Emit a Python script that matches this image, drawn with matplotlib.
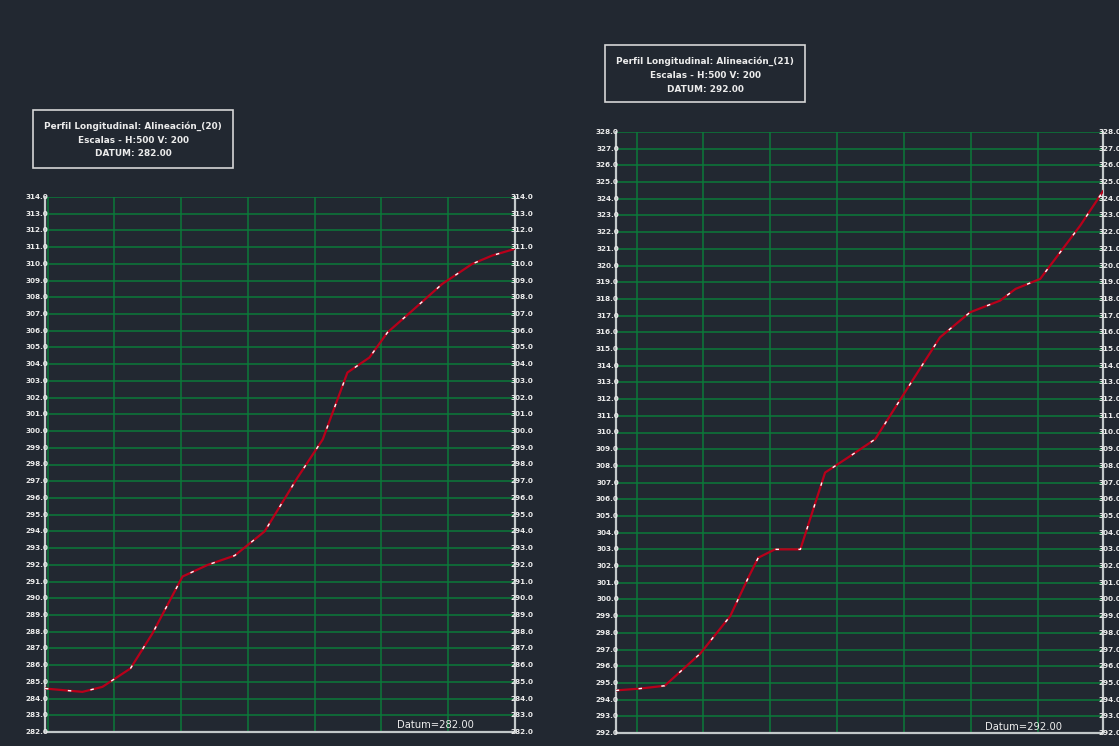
import matplotlib.pyplot as plt
from matplotlib.patches import Rectangle

BG = '#222831'
GRID = '#0b7a3a'
AXIS = '#c3c9ca'
LINE = '#b8001a'
TEXT = '#ececec'

# Alineacion 20: estaciones (m) y cotas (m)
est_20 = [-0.4, 5.2, 8.2, 12.4, 15.7, 20.2, 24.0, 28.0, 32.5, 37.4, 41.2,
          44.9, 48.2, 50.9, 54.6, 59.1, 63.6, 66.6, 70.0]
cota_20 = [284.6, 284.4, 284.7, 285.8, 287.9, 291.3, 292.0, 292.55, 294.0,
           297.2, 299.5, 303.5, 304.4, 305.9, 307.2, 308.8, 310.0, 310.5, 310.9]

# Alineacion 21
est_21 = [6.86, 10.5, 14.2, 19.5, 24.0, 26.7, 28.2, 30.7, 34.5, 38.2, 42.0,
          45.7, 49.5, 55.4, 59.9, 64.4, 66.7, 70.4, 73.4, 76.4, 79.8]
cota_21 = [294.55, 294.66, 294.83, 296.75, 299.0, 301.3, 302.5, 303.0, 303.0,
           307.6, 308.6, 309.6, 312.0, 315.7, 317.2, 317.9, 318.6, 319.2,
           320.8, 322.4, 324.45]

W, H = 1119, 746


def px_rect(x0, y0, x1, y1):
  # pixel box (top-left origin) -> figure fraction [left, bottom, width, height]
  return [x0 / W, 1 - y1 / H, (x1 - x0) / W, (y1 - y0) / H]


def draw_profile(ax, est, cota, xlim, ylim, grid_x):
  ax.set_facecolor(BG)
  ax.set_xlim(xlim)
  ax.set_ylim(ylim)
  for y in range(ylim[0], ylim[1] + 1):
    ax.axhline(y, color=GRID, lw=1.1, zorder=1)
  for x in grid_x:
    ax.axvline(x, color=GRID, lw=1.1, zorder=1)
  for side in ['left', 'right', 'bottom']:
    ax.spines[side].set_color(AXIS)
    ax.spines[side].set_linewidth(1.6)
    ax.spines[side].set_zorder(3)
  ax.spines['top'].set_visible(False)
  ax.set_xticks([])
  ax.set_yticks([])

  ax.plot(est, cota, color=LINE, lw=1.6, zorder=4, solid_joinstyle='round')
  ax.plot(est, cota, color='white', lw=1.0, ls=(0, (2.5, 14)), zorder=5)

  for y in range(ylim[0], ylim[1] + 1):
    ax.annotate(f'{y:.1f}', xy=(0, y), xycoords=('axes fraction', 'data'),
                xytext=(2.2, 0), textcoords='offset points',
                ha='right', va='center', fontsize=5.2, fontweight='bold',
                color=TEXT, annotation_clip=False, zorder=6)
    ax.annotate(f'{y:.1f}', xy=(1, y), xycoords=('axes fraction', 'data'),
                xytext=(-3, 0), textcoords='offset points',
                ha='left', va='center', fontsize=5.2, fontweight='bold',
                color=TEXT, annotation_clip=False, zorder=6)


def title_box(fig, x0, y0, x1, y1, lines, ys):
  fig.patches.append(Rectangle((x0 / W, 1 - y1 / H), (x1 - x0) / W,
                               (y1 - y0) / H, transform=fig.transFigure,
                               fill=False, ec='#d6d6d6', lw=1.2))
  xc = (x0 + x1) / 2
  for txt, y in zip(lines, ys):
    fig.text(xc / W, 1 - y / H, txt, ha='center', va='center',
             fontsize=6.4, fontweight='bold', color=TEXT)


fig = plt.figure(figsize=(W / 100, H / 100), dpi=100)
fig.patch.set_facecolor(BG)

ax1 = fig.add_axes(px_rect(45, 197, 515, 732))
draw_profile(ax1, est_20, cota_20, (-0.4, 70.0), (282, 314),
             [0, 10, 20, 30, 40, 50, 60])

ax2 = fig.add_axes(px_rect(615.7, 132, 1103, 733))
draw_profile(ax2, est_21, cota_21, (6.86, 79.8), (292, 328),
             [10, 20, 30, 40, 50, 60, 70])

title_box(fig, 33, 110, 233, 168,
          ['Perfil Longitudinal: Alineación_(20)', 'Escalas - H:500 V: 200',
           'DATUM: 282.00'], [126, 140.5, 153.5])
title_box(fig, 605, 45, 805, 102,
          ['Perfil Longitudinal: Alineación_(21)', 'Escalas - H:500 V: 200',
           'DATUM: 292.00'], [61.5, 75, 89])

fig.text(435 / W, 1 - 725 / H, 'Datum=282.00', ha='center', va='center',
         fontsize=7.2, color=TEXT)
fig.text(1023 / W, 1 - 727 / H, 'Datum=292.00', ha='center', va='center',
         fontsize=7.2, color=TEXT)

fig.savefig('out.png', dpi=100, facecolor=BG)
